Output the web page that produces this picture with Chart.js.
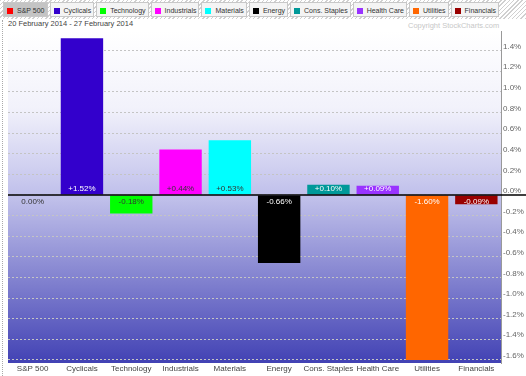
<!DOCTYPE html>
<html lang="en">
<head>
    <meta charset="UTF-8">
    <title>Sector performance</title>
    <script src="https://cdn.jsdelivr.net/npm/chart.js"></script>
    <style>
        html, body { margin: 0; padding: 0; background: #fff; }
        #wrap {
            position: relative;
            width: 526px;
            height: 376px;
            overflow: hidden;
            font-family: "Liberation Sans", Arial, sans-serif;
        }
        #tabs {
            position: absolute;
            left: 0; top: 0;
            width: 526px; height: 19px;
            background: repeating-linear-gradient(135deg, #d0d0d0 0 1px, #fff 1px 3px);
        }
        #legend {
            position: absolute;
            left: 3px; top: 2px;
            display: flex;
            gap: 2px;
        }
        .tab {
            height: 15px;
            line-height: 15px;
            padding: 0 2px 0 3px;
            background: #f4f4f4;
            border: 1px solid #c8c8c8;
            font-size: 7px;
            color: #333;
            white-space: nowrap;
            box-sizing: border-box;
        }
        .tab.on { background: #c4c4c4; }
        .tab i {
            display: inline-block;
            width: 6px; height: 6px;
            margin-right: 4px;
            vertical-align: -0.5px;
        }
        #period {
            position: absolute;
            left: 8px; top: 19px;
            font-size: 7.5px;
            color: #444;
        }
        #copy {
            position: absolute;
            left: 408px; top: 21px;
            font-size: 7.5px;
            color: #c8c8c8;
        }
        #edge {
            position: absolute;
            left: 2px; top: 20px;
            height: 356px;
            border-left: 1px dotted #aaa;
        }
        canvas { position: absolute; left: 0; top: 0; }
    </style>
</head>
<body>
<div id="wrap">
    <div id="tabs"><div id="legend"></div></div>
    <div id="period">20 February 2014 - 27 February 2014</div>
    <div id="copy">Copyright StockCharts.com</div>
    <div id="edge"></div>
    <canvas id="chart" width="526" height="376"></canvas>
</div>

<script>
    // データ
    const categories = ['S&P 500', 'Cyclicals', 'Technology', 'Industrials', 'Materials',
                        'Energy', 'Cons. Staples', 'Health Care', 'Utilities', 'Financials'];
    const changes = [0.00, 1.52, -0.18, 0.44, 0.53, -0.66, 0.10, 0.09, -1.60, -0.09];
    const tickValues = [-1.6, -1.4, -1.2, -1.0, -0.8, -0.6, -0.4, -0.2, 0.0,
                        0.2, 0.4, 0.6, 0.8, 1.0, 1.2, 1.4];

    // 色
    const barColors = ['#ff0000', '#3300cc', '#00ff00', '#ff00ff', '#00ffff',
                       '#000000', '#009999', '#9933ff', '#ff6600', '#990000'];
    const labelColors = ['#333', '#fff', '#333', '#333', '#333',
                         '#fff', '#fff', '#fff', '#fff', '#fff'];

    // legend tabs
    const legend = document.getElementById('legend');
    categories.forEach(function (name, i) {
        const t = document.createElement('div');
        t.className = 'tab' + (i === 0 ? ' on' : '');
        const sq = document.createElement('i');
        sq.style.background = barColors[i];
        t.appendChild(sq);
        t.appendChild(document.createTextNode(name));
        legend.appendChild(t);
    });

    // plot background + zero line + value labels
    const bgPlugin = {
        id: 'bg',
        beforeDraw(chart) {
            const a = chart.chartArea;
            const y = chart.scales.y;
            const ctx = chart.ctx;
            const h = a.bottom - a.top;
            const z = (y.getPixelForValue(0) - a.top) / h;
            const w = (y.getPixelForValue(0.85) - a.top) / h;
            const g = ctx.createLinearGradient(0, a.top, 0, a.bottom);
            g.addColorStop(0, '#ffffff');
            g.addColorStop(w, '#f2f2fb');
            g.addColorStop(z, '#c0c0eb');
            g.addColorStop(Math.min(1, z + 0.01), '#c0c0ea');
            g.addColorStop(1, '#4242b4');
            ctx.save();
            ctx.fillStyle = g;
            ctx.fillRect(a.left, a.top, a.right - a.left, h);
            ctx.restore();
        },
        afterDatasetsDraw(chart) {
            const a = chart.chartArea;
            const ctx = chart.ctx;
            const y0 = chart.scales.y.getPixelForValue(0);
            ctx.save();
            ctx.strokeStyle = '#000';
            ctx.lineWidth = 1.5;
            ctx.beginPath();
            ctx.moveTo(a.left, y0);
            ctx.lineTo(526, y0);
            ctx.stroke();

            ctx.font = '8px "Liberation Sans", Arial, sans-serif';
            ctx.textAlign = 'center';
            ctx.textBaseline = 'middle';
            const meta = chart.getDatasetMeta(0);
            meta.data.forEach(function (bar, i) {
                const v = changes[i];
                const txt = (v > 0 ? '+' : '') + v.toFixed(2) + '%';
                ctx.fillStyle = labelColors[i];
                ctx.fillText(txt, bar.x, v > 0 ? y0 - 6 : y0 + 7);
            });
            ctx.restore();
        }
    };

    var ctx = document.getElementById('chart').getContext('2d');
    var myChart = new Chart(ctx, {
        type: 'bar',
        data: {
            labels: categories,
            datasets: [{
                data: changes,
                backgroundColor: barColors,
                borderWidth: 0,
                barPercentage: 0.86,
                categoryPercentage: 1.0
            }]
        },
        options: {
            responsive: false,
            animation: false,
            layout: { padding: { top: 31, left: 8, right: 0, bottom: 0 } },
            plugins: {
                legend: { display: false },
                tooltip: { enabled: false }
            },
            scales: {
                x: {
                    grid: { display: false, drawTicks: false },
                    border: { display: false },
                    ticks: {
                        color: '#444',
                        font: { family: '"Liberation Sans", Arial, sans-serif', size: 8 },
                        padding: 1,
                        maxRotation: 0,
                        autoSkip: false
                    },
                    afterFit(scale) { scale.height = 13; }
                },
                y: {
                    position: 'right',
                    min: -1.63,
                    max: 1.59,
                    afterBuildTicks(scale) {
                        scale.ticks = tickValues.map(v => ({ value: v }));
                    },
                    afterFit(scale) { scale.width = 25; },
                    grid: {
                        color: '#c4c4c4',
                        lineWidth: 1,
                        drawTicks: false
                    },
                    border: { display: true, color: '#999', dash: [2, 2] },
                    ticks: {
                        color: '#666',
                        font: { family: '"Liberation Sans", Arial, sans-serif', size: 8 },
                        padding: 2,
                        labelOffset: -4,
                        callback: v => v.toFixed(1) + '%'
                    }
                }
            }
        },
        plugins: [bgPlugin]
    });
</script>
</body>
</html>
